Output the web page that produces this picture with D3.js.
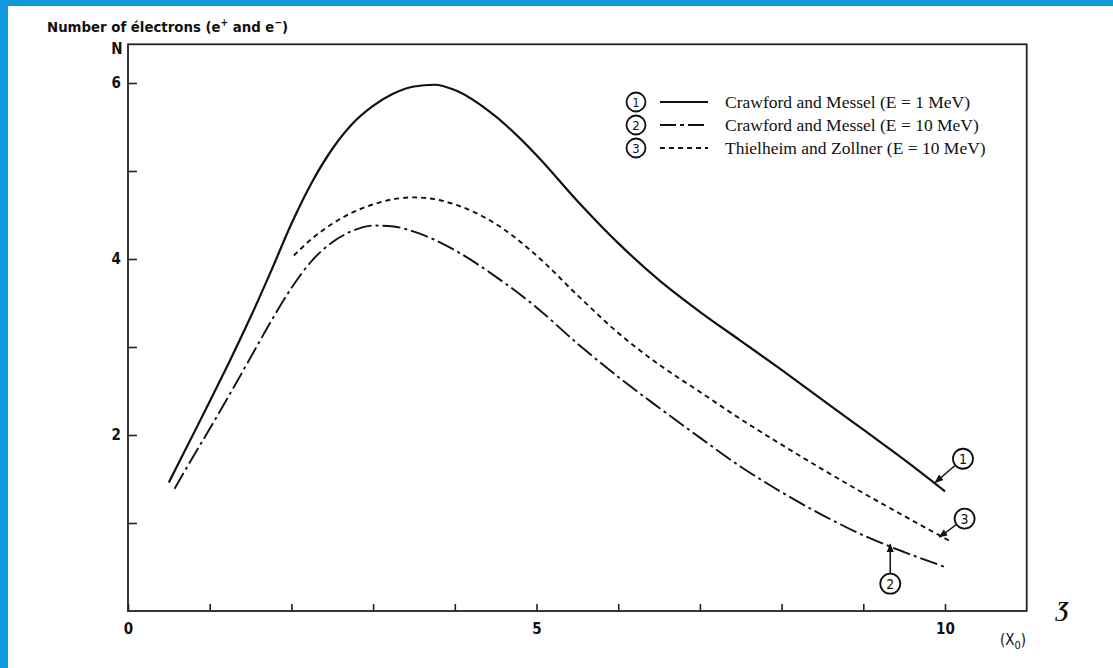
<!DOCTYPE html>
<html>
<head>
<meta charset="utf-8">
<script src="https://cdn.jsdelivr.net/npm/d3@7"></script>
<style>
  body { margin: 0; background: #fff; }
  svg { display: block; }
</style>
</head>
<body>
<div id="chart"></div>
<script>
// depth in radiation lengths, number of electrons N
const x1 = [0.5, 0.75, 1.0, 1.25, 1.5, 1.75, 2.0, 2.25, 2.5, 2.75, 3.0, 3.25, 3.5, 3.75, 4.0, 4.5, 5.0, 5.5, 6.0, 6.5, 7.0, 7.5, 8.0, 8.5, 9.0, 9.5, 10.0]
const n1 = [1.46, 1.92, 2.38, 2.85, 3.34, 3.86, 4.40, 4.87, 5.25, 5.54, 5.74, 5.88, 5.96, 5.98, 5.92, 5.62, 5.18, 4.66, 4.18, 3.76, 3.40, 3.07, 2.74, 2.40, 2.06, 1.72, 1.36]

const x2 = [0.57, 0.75, 1.0, 1.25, 1.5, 1.75, 2.0, 2.25, 2.5, 2.75, 3.0, 3.25, 3.5, 3.75, 4.0, 4.5, 5.0, 5.5, 6.0, 6.5, 7.0, 7.5, 8.0, 8.5, 9.0, 9.5, 10.0]
const n2 = [1.39, 1.68, 2.07, 2.47, 2.88, 3.29, 3.67, 3.98, 4.19, 4.32, 4.38, 4.37, 4.31, 4.22, 4.10, 3.80, 3.45, 3.04, 2.66, 2.31, 1.97, 1.64, 1.35, 1.09, 0.86, 0.67, 0.50]

const x3 = [2.03, 2.25, 2.5, 2.75, 3.0, 3.25, 3.5, 3.75, 4.0, 4.5, 5.0, 5.5, 6.0, 6.5, 7.0, 7.5, 8.0, 8.5, 9.0, 9.5, 10.05]
const n3 = [4.04, 4.23, 4.40, 4.53, 4.62, 4.68, 4.70, 4.68, 4.62, 4.40, 4.04, 3.59, 3.16, 2.80, 2.49, 2.18, 1.89, 1.61, 1.34, 1.08, 0.80]

const seriesNames = [
  "Crawford and Messel (E = 1 MeV)",
  "Crawford and Messel (E = 10 MeV)",
  "Thielheim and Zollner (E = 10 MeV)"
]
const seriesLabels = ["1", "2", "3"]
const dashes = [null, "18,4,3,4", "5,4"]

const xTicks = [0, 1, 2, 3, 4, 5, 6, 7, 8, 9, 10]
const xTickLabels = [0, 5, 10]
const yTicks = [1, 2, 3, 4, 5, 6]
const yTickLabels = [2, 4, 6]

// callouts: circle position and arrow tip, in data units
const calloutLabel = ["1", "3", "2"]
const calloutX = [10.22, 10.24, 9.33]
const calloutY = [1.73, 1.05, 0.31]
const arrowX = [9.88, 9.93, 9.33]
const arrowY = [1.46, 0.84, 0.76]

const width = 1113, height = 668
const digitFont = "'DejaVu Sans Condensed', 'DejaVu Sans', sans-serif"
const serifFont = "'Liberation Serif', 'DejaVu Serif', serif"

const x = d3.scaleLinear().domain([0, 10]).range([128, 945])
const y = d3.scaleLinear().domain([0, 6]).range([611, 83])

const svg = d3.select("#chart").append("svg")
  .attr("width", width)
  .attr("height", height)

svg.append("rect").attr("width", width).attr("height", height).attr("fill", "#fff")
// blue page edges
svg.append("rect").attr("x", 0).attr("y", 0).attr("width", width).attr("height", 6).attr("fill", "#1199dd")
svg.append("rect").attr("x", 0).attr("y", 0).attr("width", 8).attr("height", height).attr("fill", "#1199dd")

svg.append("defs").append("marker")
  .attr("id", "arr")
  .attr("viewBox", "0 0 10 10")
  .attr("refX", 9).attr("refY", 5)
  .attr("markerWidth", 6).attr("markerHeight", 6)
  .attr("orient", "auto")
  .append("path").attr("d", "M0,1 L10,5 L0,9 Z").attr("fill", "#111")

// frame
svg.append("rect")
  .attr("x", x(0)).attr("y", y(6.44))
  .attr("width", x(11) - x(0)).attr("height", y(0) - y(6.44))
  .attr("fill", "none").attr("stroke", "#222").attr("stroke-width", 1.8)

const xAxis = svg.append("g")
  .attr("transform", `translate(0,${y(0)})`)
  .call(d3.axisBottom(x).tickValues(xTicks).tickSize(-7).tickPadding(12)
    .tickFormat(d => xTickLabels.includes(d) ? d : ""))
xAxis.select(".domain").remove()

const yAxis = svg.append("g")
  .attr("transform", `translate(${x(0)},0)`)
  .call(d3.axisLeft(y).tickValues(yTicks).tickSize(-9).tickPadding(7)
    .tickFormat(d => yTickLabels.includes(d) ? d : ""))
yAxis.select(".domain").remove()

svg.selectAll(".tick line").attr("stroke", "#222").attr("stroke-width", 1.6)
svg.selectAll(".tick text")
  .attr("fill", "#111")
  .attr("font-family", digitFont)
  .attr("font-weight", "bold")
  .attr("font-size", 15)

// axis titles
svg.append("text")
  .attr("x", 47).attr("y", 32)
  .attr("font-family", digitFont).attr("font-weight", "bold").attr("font-size", 14.8)
  .attr("fill", "#111")
  .html("Number of électrons (e<tspan dy='-6' font-size='10'>+</tspan><tspan dy='6'> and e</tspan><tspan dy='-6' font-size='10'>−</tspan><tspan dy='6'>)</tspan>")

svg.append("text")
  .attr("x", 117).attr("y", 54).attr("text-anchor", "middle")
  .attr("font-family", digitFont).attr("font-weight", "bold").attr("font-size", 15)
  .attr("fill", "#111").text("N")

svg.append("text")
  .attr("x", 1063).attr("y", 616).attr("text-anchor", "middle")
  .attr("font-family", serifFont).attr("font-weight", "bold").attr("font-style", "italic")
  .attr("font-size", 22).attr("fill", "#111").text("Ʒ")

svg.append("text")
  .attr("x", 1013).attr("y", 645).attr("text-anchor", "middle")
  .attr("font-family", digitFont).attr("font-size", 15).attr("fill", "#111")
  .html("(X<tspan dy='4' font-size='11'>0</tspan><tspan dy='-4'>)</tspan>")

// curves
const curves = [
  x1.map((d, i) => [d, n1[i]]),
  x2.map((d, i) => [d, n2[i]]),
  x3.map((d, i) => [d, n3[i]])
]
const line = d3.line().x(d => x(d[0])).y(d => y(d[1])).curve(d3.curveMonotoneX)

svg.selectAll(".curve")
  .data(curves)
  .join("path")
  .attr("class", "curve")
  .attr("d", line)
  .attr("fill", "none")
  .attr("stroke", "#111")
  .attr("stroke-width", (d, i) => i == 0 ? 2.2 : 1.9)
  .attr("stroke-dasharray", (d, i) => dashes[i])

// callouts
const callouts = svg.selectAll(".callout")
  .data(calloutLabel)
  .join("g")
  .attr("class", "callout")

callouts.append("line")
  .attr("x1", (d, i) => {
    const dx = x(arrowX[i]) - x(calloutX[i]), dy = y(arrowY[i]) - y(calloutY[i])
    return x(calloutX[i]) + 10 * dx / Math.hypot(dx, dy)
  })
  .attr("y1", (d, i) => {
    const dx = x(arrowX[i]) - x(calloutX[i]), dy = y(arrowY[i]) - y(calloutY[i])
    return y(calloutY[i]) + 10 * dy / Math.hypot(dx, dy)
  })
  .attr("x2", (d, i) => x(arrowX[i]))
  .attr("y2", (d, i) => y(arrowY[i]))
  .attr("stroke", "#111").attr("stroke-width", 1.5)
  .attr("marker-end", "url(#arr)")

callouts.append("circle")
  .attr("cx", (d, i) => x(calloutX[i]))
  .attr("cy", (d, i) => y(calloutY[i]))
  .attr("r", 10)
  .attr("fill", "#fff").attr("stroke", "#111").attr("stroke-width", 1.8)

callouts.append("text")
  .attr("x", (d, i) => x(calloutX[i]))
  .attr("y", (d, i) => y(calloutY[i]) + 5)
  .attr("text-anchor", "middle")
  .attr("font-family", digitFont).attr("font-size", 14).attr("fill", "#111")
  .text(d => d)

// legend
const legend = svg.selectAll(".legend")
  .data(seriesNames)
  .join("g")
  .attr("class", "legend")
  .attr("transform", (d, i) => `translate(636,${102 + i * 23})`)

legend.append("circle")
  .attr("r", 9.5).attr("fill", "#fff").attr("stroke", "#111").attr("stroke-width", 1.8)
legend.append("text")
  .attr("y", 4.5).attr("text-anchor", "middle")
  .attr("font-family", digitFont).attr("font-size", 13).attr("fill", "#111")
  .text((d, i) => seriesLabels[i])
legend.append("line")
  .attr("x1", 24).attr("x2", 72).attr("y1", 0).attr("y2", 0)
  .attr("stroke", "#111").attr("stroke-width", 1.8)
  .attr("stroke-dasharray", (d, i) => i == 1 ? "16,4,4,4" : dashes[i])
legend.append("text")
  .attr("x", 89).attr("y", 5.5)
  .attr("font-family", serifFont).attr("font-size", 17.5).attr("fill", "#111")
  .text(d => d)
</script>
</body>
</html>
